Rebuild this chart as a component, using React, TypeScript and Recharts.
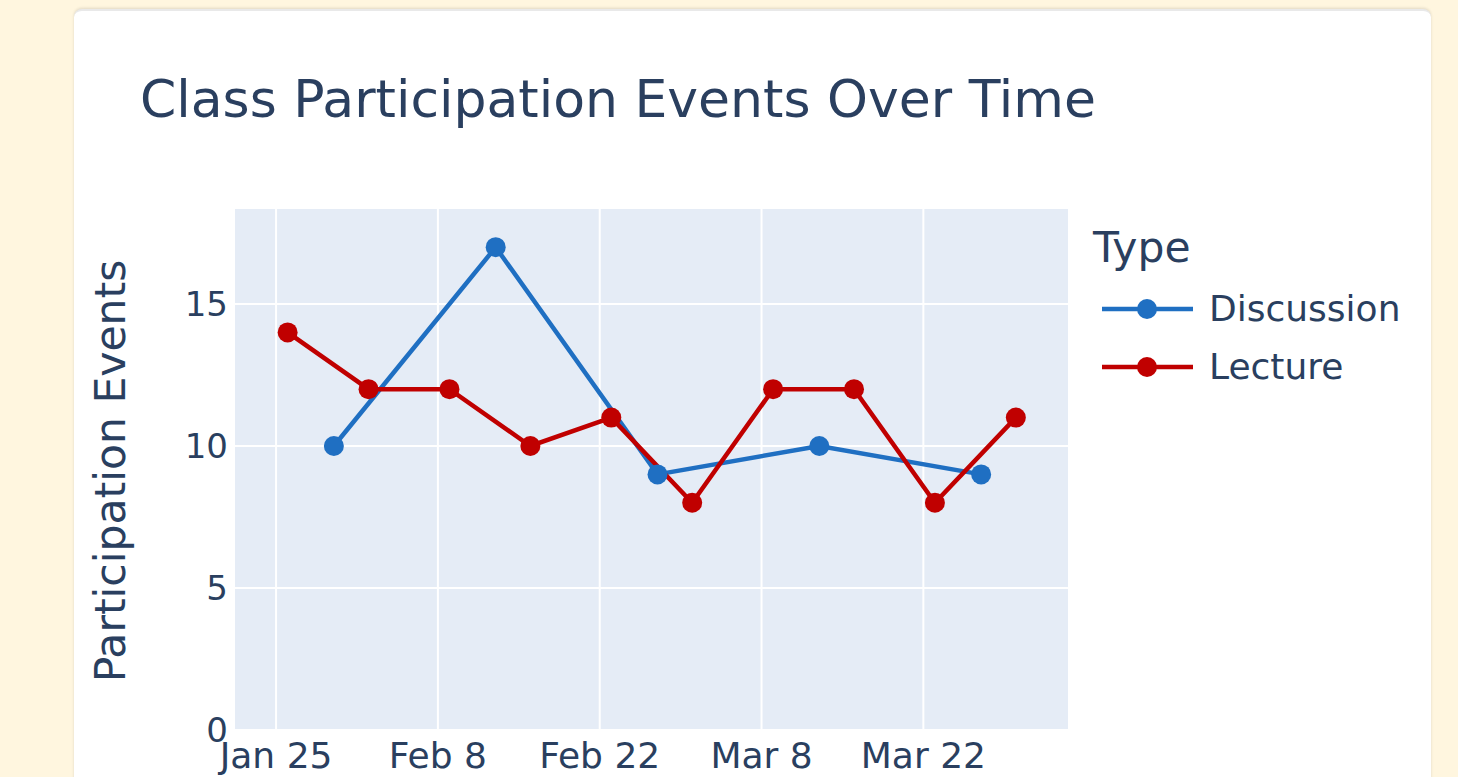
import React from 'react';
import { LineChart, Line, XAxis, YAxis, CartesianGrid, Legend } from 'recharts';

const originDate = '2025-01-25';
const discussionDates = ['2025-01-30', '2025-02-13', '2025-02-27', '2025-03-13', '2025-03-27'];
const discussionValues = [10, 17, 9, 10, 9];
const lectureDates = ['2025-01-26', '2025-02-02', '2025-02-09', '2025-02-16', '2025-02-23', '2025-03-02', '2025-03-09', '2025-03-16', '2025-03-23', '2025-03-30'];
const lectureValues = [14, 12, 12, 10, 11, 8, 12, 12, 8, 11];
const tickDates = ['2025-01-25', '2025-02-08', '2025-02-22', '2025-03-08', '2025-03-22'];
const tickLabels = ['Jan 25', 'Feb 8', 'Feb 22', 'Mar 8', 'Mar 22'];
const yTicks = [0, 5, 10, 15];

const DAY = 86400000;
const toDay = (d: string) => (Date.parse(d + 'T00:00:00Z') - Date.parse(originDate + 'T00:00:00Z')) / DAY;

const discussionData = discussionDates.map((d, i) => ({ x: toDay(d), y: discussionValues[i] }));
const lectureData = lectureDates.map((d, i) => ({ x: toDay(d), y: lectureValues[i] }));
const xTicks = tickDates.map(toDay);
const tickLabelMap: Record<number, string> = {};
xTicks.forEach((t, i) => { tickLabelMap[t] = tickLabels[i]; });

const BLUE = '#1F6FC2';
const RED = '#C00000';
const TEXT = '#2a3f5f';
const FONT = 'Verdana, "DejaVu Sans", sans-serif';

const LegendContent = (props: any) => {
  const payload = props.payload || [];
  return (
    <div style={{ fontFamily: FONT, color: TEXT, position: 'relative', width: 340, height: 190 }}>
      <div style={{ position: 'absolute', left: 0, top: 4, fontSize: 42.5, lineHeight: '42px', whiteSpace: 'nowrap' }}>Type</div>
      {payload.map((p: any, i: number) => (
        <div key={p.value} style={{ position: 'absolute', left: 9, top: 66 + i * 58, height: 40, display: 'flex', alignItems: 'center' }}>
          <svg width={92} height={24} style={{ display: 'block' }}>
            <line x1={0} y1={12} x2={91} y2={12} stroke={p.color} strokeWidth={4.5} />
            <circle cx={45} cy={12} r={10} fill={p.color} />
          </svg>
          <span style={{ marginLeft: 15, fontSize: 36, lineHeight: '40px', whiteSpace: 'nowrap' }}>{p.value}</span>
        </div>
      ))}
    </div>
  );
};

export default function App() {
  return (
    <div style={{ position: 'fixed', inset: 0, background: '#FFF6DF', overflow: 'hidden' }}>
      <div
        style={{
          position: 'absolute',
          left: 74,
          top: 9,
          width: 1357,
          height: 900,
          background: '#ffffff',
          borderRadius: 8,
          boxShadow: '0 -1px 3px rgba(0,0,0,0.12)',
          borderTop: '2px solid #e9e9e9',
          boxSizing: 'border-box',
        }}
      >
        <div
          style={{
            position: 'absolute',
            left: 66,
            top: 62,
            fontFamily: FONT,
            fontSize: 52,
            lineHeight: '52px',
            color: TEXT,
            whiteSpace: 'nowrap',
          }}
        >
          Class Participation Events Over Time
        </div>
        <div style={{ position: 'absolute', left: 0, top: -2 }}>
          <LineChart
            width={1357}
            height={800}
            margin={{ top: 199, right: 22, bottom: 19, left: 100 }}
          >
            <CartesianGrid fill="#E5ECF6" stroke="#ffffff" strokeWidth={2} />
            <XAxis
              dataKey="x"
              type="number"
              domain={[-3.64, 68.6]}
              ticks={xTicks}
              tickFormatter={(v: number) => tickLabelMap[v] ?? ''}
              allowDataOverflow
              axisLine={false}
              tickLine={false}
              tickSize={0}
              tickMargin={12}
              height={60}
              interval={0}
              tick={{ fill: TEXT, fontSize: 36, fontFamily: FONT }}
            />
            <YAxis
              dataKey="y"
              type="number"
              domain={[0, 18.38]}
              ticks={yTicks}
              allowDataOverflow
              axisLine={false}
              tickLine={false}
              tickSize={0}
              tickMargin={6}
              width={60}
              interval={0}
              tick={{ fill: TEXT, fontSize: 34, fontFamily: FONT }}
              label={{
                content: () => (
                  <text
                    x={51}
                    y={462}
                    transform="rotate(-90, 51, 462)"
                    textAnchor="middle"
                    fill={TEXT}
                    fontSize={42.5}
                    fontFamily={FONT}
                  >
                    Participation Events
                  </text>
                ),
              }}
            />
            <Legend
              layout="vertical"
              verticalAlign="top"
              align="right"
              content={<LegendContent />}
              wrapperStyle={{ left: 1019, top: 214, width: 340 }}
            />
            <Line
              name="Discussion"
              data={discussionData}
              dataKey="y"
              stroke={BLUE}
              strokeWidth={4.5}
              dot={{ r: 10, fill: BLUE, stroke: BLUE, strokeWidth: 0 }}
              activeDot={false}
              isAnimationActive={false}
            />
            <Line
              name="Lecture"
              data={lectureData}
              dataKey="y"
              stroke={RED}
              strokeWidth={4.5}
              dot={{ r: 10, fill: RED, stroke: RED, strokeWidth: 0 }}
              activeDot={false}
              isAnimationActive={false}
            />
          </LineChart>
        </div>
      </div>
    </div>
  );
}
